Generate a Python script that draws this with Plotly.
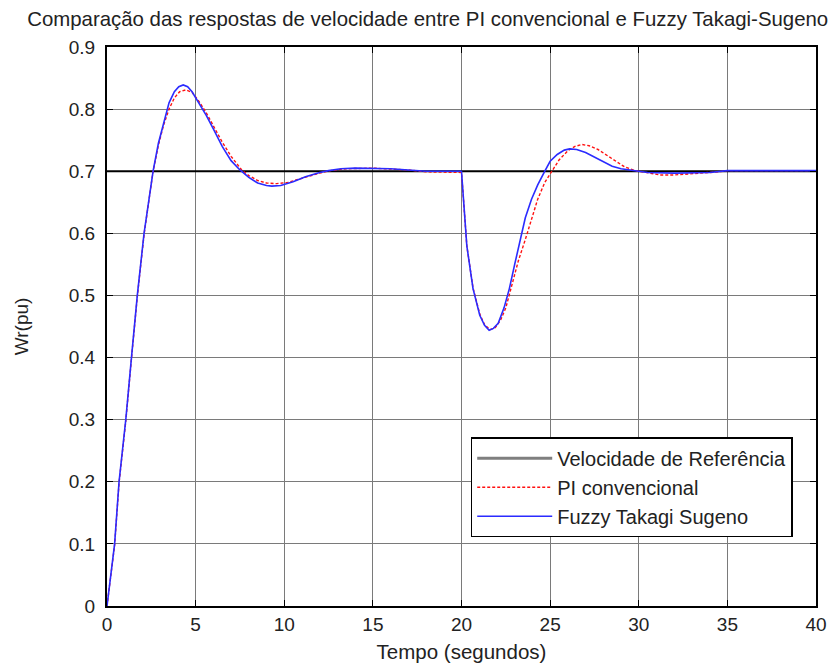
import plotly.graph_objects as go

# Time samples (s) and speed responses (pu)
t_fuzzy = [0, 0.2, 0.43, 0.68, 1.06, 1.38, 1.71, 2.09, 2.35, 2.6, 2.9, 3.2, 3.5, 3.8,
           4.05, 4.3, 4.55, 4.8, 5.2, 5.6, 6.0, 6.5, 7.0, 7.5, 8.0, 8.5, 9.0, 9.3, 9.8,
           10.5, 11.2, 12.0, 12.5, 13.2, 14, 15, 16, 17, 18, 19, 20, 20.1, 20.3, 20.65,
           21.03, 21.3, 21.56, 21.8, 22.07, 22.4, 22.7, 23.0, 23.3, 23.6, 23.95, 24.3,
           24.7, 25.0, 25.4, 25.8, 26.1, 26.5, 27.0, 27.5, 28.0, 28.5, 29.0, 29.9, 30.5,
           32, 34, 35, 40]
w_fuzzy = [0, 0.045, 0.10, 0.20, 0.30, 0.40, 0.50, 0.60, 0.65, 0.70, 0.745, 0.78, 0.81, 0.828,
           0.836, 0.839, 0.836, 0.828, 0.81, 0.79, 0.768, 0.74, 0.717, 0.702, 0.69, 0.681, 0.677,
           0.676, 0.677, 0.683, 0.691, 0.698, 0.701, 0.704, 0.705, 0.705, 0.704, 0.702, 0.700,
           0.700, 0.700, 0.66, 0.58, 0.511, 0.468, 0.452, 0.444, 0.447, 0.455, 0.48, 0.511, 0.55,
           0.59, 0.625, 0.655, 0.678, 0.700, 0.716, 0.727, 0.734, 0.736, 0.735, 0.73, 0.723,
           0.715, 0.708, 0.704, 0.700, 0.698, 0.697, 0.698, 0.701, 0.701]

t_pi = [0, 0.2, 0.43, 0.68, 1.06, 1.38, 1.71, 2.09, 2.35, 2.6, 2.9, 3.2, 3.5, 3.8, 4.1,
        4.44, 4.8, 5.2, 5.6, 6.0, 6.5, 7.0, 7.6, 8.0, 8.5, 9.0, 9.56, 10.2, 11, 12, 12.6,
        13.5, 15, 16, 17, 18, 19, 20, 20.1, 20.3, 20.65, 21.03, 21.3, 21.6, 21.9, 22.2,
        22.5, 22.8, 23.2, 23.6, 24.0, 24.3, 24.7, 25.1, 25.5, 26.0, 26.4, 26.8, 27.2, 27.7,
        28.2, 28.7, 29.2, 29.8, 30.5, 31.2, 32, 32.7, 33.5, 34.5, 35, 40]
w_pi = [0, 0.044, 0.098, 0.198, 0.298, 0.398, 0.498, 0.598, 0.648, 0.70, 0.742, 0.775, 0.80,
        0.818, 0.828, 0.831, 0.827, 0.812, 0.794, 0.773, 0.747, 0.724, 0.702, 0.693, 0.685,
        0.681, 0.680, 0.682, 0.689, 0.697, 0.701, 0.704, 0.705, 0.704, 0.702, 0.699, 0.698,
        0.698, 0.66, 0.58, 0.512, 0.47, 0.453, 0.445, 0.448, 0.46, 0.48, 0.511, 0.555, 0.59,
        0.628, 0.655, 0.682, 0.700, 0.718, 0.733, 0.740, 0.743, 0.741, 0.735, 0.726, 0.716,
        0.707, 0.701, 0.697, 0.694, 0.694, 0.695, 0.697, 0.699, 0.701, 0.701]

t_ref = [0, 40]
w_ref = [0.7, 0.7]

x_ticks = [0, 5, 10, 15, 20, 25, 30, 35, 40]
y_ticks = [0, 0.1, 0.2, 0.3, 0.4, 0.5, 0.6, 0.7, 0.8, 0.9]

FONT = "Liberation Sans, Arial, sans-serif"

fig = go.Figure()

# Reference speed line (legend entry drawn separately in grey)
fig.add_trace(go.Scatter(x=t_ref, y=w_ref, mode="lines", showlegend=False,
                         line=dict(color="black", width=2)))
fig.add_trace(go.Scatter(x=[None], y=[None], mode="lines", name="Velocidade de Referência",
                         legendgroup="a", line=dict(color="#7f7f7f", width=3)))
fig.add_trace(go.Scatter(x=t_pi, y=w_pi, mode="lines", name="PI convencional",
                         legendgroup="b", line=dict(color="#ff1010", width=1.4, dash="3px,2px")))
fig.add_trace(go.Scatter(x=t_fuzzy, y=w_fuzzy, mode="lines", name="Fuzzy Takagi Sugeno",
                         legendgroup="c", line=dict(color="#2b2bff", width=1.6)))

axis_common = dict(
    showgrid=True, gridcolor="#7a7a7a", gridwidth=1,
    showline=True, linecolor="black", linewidth=2, mirror="allticks",
    ticks="inside", ticklen=6, tickcolor="black", tickwidth=1,
    zeroline=False, automargin=False,
    tickfont=dict(family=FONT, size=19, color="#222"),
)

fig.update_xaxes(range=[0, 40], tickvals=x_ticks, ticktext=[str(v) for v in x_ticks],
                 title=dict(text="Tempo (segundos)", font=dict(family=FONT, size=20.5, color="#222"),
                            standoff=14),
                 **axis_common)
fig.update_yaxes(range=[0, 0.9], tickvals=y_ticks,
                 ticktext=["0" if v == 0 else f"{v:.1f}" for v in y_ticks],
                 ticklabelstandoff=6,
                 title=dict(text="Wr(pu)", font=dict(family=FONT, size=19, color="#222"),
                            standoff=35),
                 **axis_common)

fig.update_layout(
    width=837, height=663,
    margin=dict(l=107, r=21, t=47, b=57),
    paper_bgcolor="white", plot_bgcolor="white",
    title=dict(text="Comparação das respostas de velocidade entre PI convencional e Fuzzy Takagi-Sugeno",
               font=dict(family=FONT, size=20.4, color="#222"),
               x=0.511, xref="container", xanchor="center",
               y=1 - 19 / 663, yref="container", yanchor="middle"),
    legend=dict(x=0.513, y=0.302, xanchor="left", yanchor="top",
                bgcolor="white", bordercolor="black", borderwidth=1.5,
                font=dict(family=FONT, size=20, color="#222"),
                itemwidth=75, entrywidth=245,
                traceorder="grouped", tracegroupgap=0),
)

fig.write_html("out.html")
